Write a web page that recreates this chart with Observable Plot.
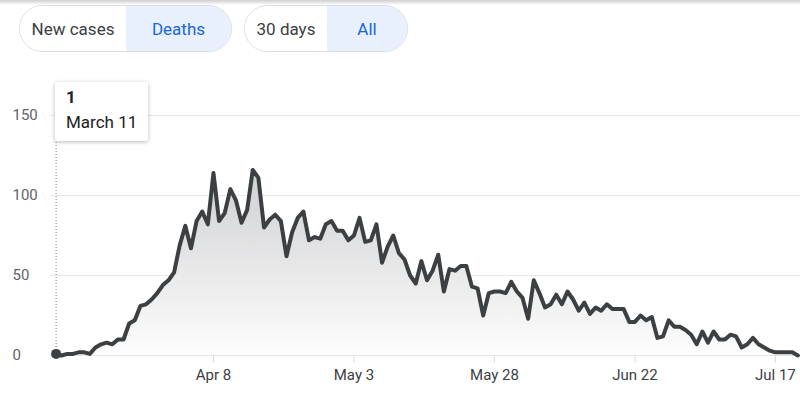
<!DOCTYPE html>
<html>
<head>
<meta charset="utf-8">
<script src="https://cdn.jsdelivr.net/npm/d3@7"></script>
<script src="https://cdn.jsdelivr.net/npm/@observablehq/plot@0.6"></script>
<style>
  body { margin: 0; background: #fff; font-family: Roboto, "Noto Sans", sans-serif; }
  #wrap { position: relative; width: 800px; height: 405px; overflow: hidden; background: #fff; }
  #chart { position: absolute; left: 0; top: 0; }
  .topshadow { position: absolute; left: 0; top: 0; width: 800px; height: 5px; background: linear-gradient(#cfcfcf, rgba(255,255,255,0)); }
  .pill { position: absolute; top: 5px; height: 47px; box-sizing: border-box; border: 1px solid #dadce0; border-radius: 24px; display: flex; overflow: hidden; font-size: 17px; }
  .pill div { display: flex; align-items: center; justify-content: center; height: 100%; }
  .on { background: #e8f0fe; color: #1967d2; }
  .off { background: #fff; color: #3c4043; }
  #tip { position: absolute; left: 55px; top: 82px; width: 93px; height: 59px; box-sizing: border-box; background: #fff; border-radius: 2px; box-shadow: 0 1px 4px rgba(0,0,0,0.28); color: #202124; font-size: 17px; }
  #tip .v { position: absolute; left: 11px; top: 5px; font-weight: bold; }
  #tip .d { position: absolute; left: 11px; top: 30px; }
</style>
</head>
<body>
<div id="wrap">
  <div id="chart"></div>
  <div class="topshadow"></div>
  <div class="pill" style="left:19px;width:213px;">
    <div class="off" style="width:107px;">New cases</div>
    <div class="on" style="width:106px;">Deaths</div>
  </div>
  <div class="pill" style="left:244px;width:164px;">
    <div class="off" style="width:83px;">30 days</div>
    <div class="on" style="width:81px;">All</div>
  </div>
  <div id="tip"><span class="v"></span><span class="d"></span></div>
</div>
<script>
// Daily deaths, one value per day starting March 11 (2020)
const startDate = "2020-03-11";
const deaths = [
  1, 0, 1, 1, 2, 2, 1, 5, 7, 8,
  7, 10, 10, 20, 22, 31, 32, 35, 39, 44,
  47, 52, 69, 81, 67, 84, 90, 82, 114, 84,
  89, 104, 97, 83, 91, 116, 111, 80, 85, 88,
  84, 62, 77, 86, 90, 72, 74, 73, 82, 84,
  78, 78, 72, 75, 86, 71, 72, 82, 58, 68,
  75, 64, 60, 50, 45, 59, 47, 53, 63, 40,
  54, 53, 56, 56, 43, 42, 25, 39, 40, 40,
  39, 46, 40, 36, 23, 47, 39, 30, 32, 38,
  32, 40, 35, 28, 33, 26, 30, 28, 32, 29,
  29, 29, 21, 21, 25, 22, 24, 11, 12, 22,
  18, 18, 16, 13, 7, 15, 8, 15, 10, 10,
  13, 12, 5, 7, 11, 7, 5, 3, 2, 2,
  2, 2, 0
];
const xTickDates = ["2020-04-08", "2020-05-03", "2020-05-28", "2020-06-22", "2020-07-17"];
const yTicks = [0, 50, 100, 150];

const start = new Date(startDate + "T00:00:00Z");
const dates = deaths.map((_, i) => new Date(start.getTime() + i * 864e5));
const data = deaths.map((v, i) => ({date: dates[i], value: v}));
const xTicks = xTickDates.map(s => new Date(s + "T00:00:00Z"));

const chart = Plot.plot({
  width: 800,
  height: 405,
  marginTop: 115,
  marginBottom: 50,
  marginLeft: 50,
  marginRight: 0,
  style: {fontFamily: "Roboto, sans-serif", fontSize: "15px", background: "transparent", overflow: "visible"},
  x: {type: "utc", domain: [dates[0], dates[dates.length - 1]], range: [55.6, 797.4]},
  y: {domain: [0, 150], range: [355, 115]},
  marks: [
    Plot.gridY(yTicks, {stroke: "#e8e8e8", strokeOpacity: 1, strokeWidth: 1}),
    Plot.axisY(yTicks, {tickSize: 0, textAnchor: "start", dx: -29, fill: "#5f6368", fontSize: 15, label: null}),
    Plot.axisX(xTicks, {tickSize: 8, tickPadding: 6, stroke: "#dadce0", fill: "#3c4043", fontSize: 15, tickFormat: d3.utcFormat("%b %-d"), label: null}),
    Plot.ruleX([dates[0]], {stroke: "#808080", strokeWidth: 1, strokeDasharray: "1,2"}),
    Plot.areaY(data, {x: "date", y: "value", fill: "url(#fillGrad)"}),
    Plot.lineY(data, {x: "date", y: "value", stroke: "#3c4043", strokeWidth: 4, strokeLinejoin: "round"}),
    Plot.dot([data[0]], {x: "date", y: "value", r: 5, fill: "#3c4043", stroke: "none"})
  ]
});

const ns = "http://www.w3.org/2000/svg";
const defs = document.createElementNS(ns, "defs");
defs.innerHTML = '<linearGradient id="fillGrad" x1="0" y1="0" x2="0" y2="1">' +
  '<stop offset="0" stop-color="#cfd0d2"/><stop offset="1" stop-color="#fdfdfd"/></linearGradient>';
chart.prepend(defs);
document.getElementById("chart").appendChild(chart);

document.querySelector("#tip .v").textContent = String(deaths[0]);
document.querySelector("#tip .d").textContent = d3.utcFormat("%B %-d")(dates[0]);
</script>
</body>
</html>
